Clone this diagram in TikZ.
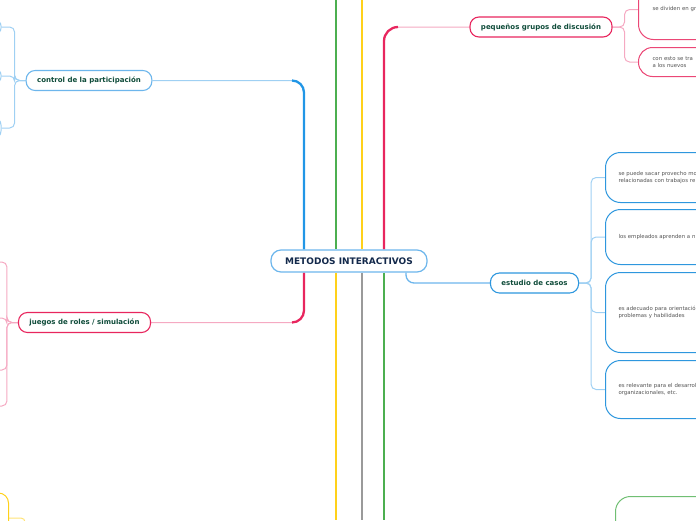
\documentclass[tikz,border=0pt]{standalone}
\usepackage{fontspec}
\setmainfont{DejaVu Sans}
\usepackage{tikz}
\usetikzlibrary{positioning,calc,backgrounds}
\definecolor{navy}{HTML}{13294B}
\definecolor{pine}{HTML}{0F4C3A}
\definecolor{leafink}{HTML}{555555}
\definecolor{skyline}{HTML}{6DB6EC}
\definecolor{trunkblue}{HTML}{2196E6}
\definecolor{twigblue}{HTML}{9FD0F3}
\definecolor{caseblue}{HTML}{2E97DE}
\definecolor{rose}{HTML}{E8265E}
\definecolor{twigpink}{HTML}{F5A9C2}
\definecolor{sun}{HTML}{FFD11A}
\definecolor{ash}{HTML}{9A9A9A}
\definecolor{grass}{HTML}{4CAF50}
\tikzset{
  root/.style={draw=skyline,line width=1.2pt,rounded corners=10pt,fill=white,text=navy,font=\fontsize{9}{11}\selectfont\bfseries,minimum width=156pt,minimum height=22pt,inner sep=0pt},
  topic/.style={draw=#1,line width=1.1pt,rounded corners=9pt,fill=white,text=pine,font=\fontsize{7}{8}\selectfont\bfseries,minimum height=20pt,inner xsep=11pt,inner ysep=0pt},
  leaf/.style={draw=#1,line width=1pt,rounded corners=15pt,fill=white,text=leafink,font=\fontsize{5.4}{7.6}\selectfont,align=left,inner xsep=13pt,inner ysep=0pt},
  trunk/.style={draw=#1,line width=2.3pt},
  twig/.style={draw=#1,line width=1pt}
}
\begin{document}
\begin{tikzpicture}[x=1pt,y=-1pt]
  \useasboundingbox (0,0) rectangle (696,520);
  % trunk columns
  \coordinate (top) at (0,0);
  \coordinate (bottom) at (0,520);
  \coordinate (c1) at (304,0);
  \coordinate (c2) at (336,0);
  \coordinate (c3) at (362,0);
  \coordinate (c4) at (384,0);
  \coordinate (c5) at (406,0);

  \node[root] (core) at (349,261) {METODOS INTERACTIVOS};

  \node[topic=skyline] (ctrl) at (89,80.5) {control de la participación};
  \node[topic=rose] (roles) at (84.5,322.5) {juegos de roles / simulación};
  \node[topic=rose] (groups) at (541,27) {pequeños grupos de discusión};
  \node[topic=caseblue] (cases) at (534.5,283) {estudio de casos};

  % estudio de casos
  \node[leaf=caseblue,anchor=north west,minimum height=50pt,text width=190pt] (caseA) at (605,152) {se puede sacar provecho mo\\relacionadas con trabajos re};
  \node[leaf=caseblue,below=6pt of caseA.south west,anchor=north west,minimum height=55pt,text width=190pt] (caseB) {los empleados aprenden a n};
  \node[leaf=caseblue,below=7pt of caseB.south west,anchor=north west,minimum height=80pt,text width=190pt] (caseC) {es adecuado para orientación\\problemas y habilidades};
  \node[leaf=caseblue,below=7pt of caseC.south west,anchor=north west,minimum height=58pt,text width=190pt] (caseD) {es relevante para el desarrollo\\organizacionales, etc.};

  % pequeños grupos
  \node[leaf=rose!85,anchor=south west,minimum height=60pt,text width=160pt,inner xsep=14pt] (groupA) at (638,40) {se dividen en gr};
  \node[leaf=rose!85,below=7pt of groupA.south west,anchor=north west,minimum height=29pt,text width=160pt,inner xsep=14pt,rounded corners=14pt] (groupB) {con esto se tra\\a los nuevos};

  % control de la participacion
  \node[leaf=twigblue,anchor=east,minimum width=50pt,minimum height=14pt,rounded corners=6pt] (partA) at (1.5,27) {};
  \node[leaf=twigblue,anchor=east,minimum width=50pt,minimum height=14pt,rounded corners=6pt] (partB) at (1.5,76) {};
  \node[leaf=twigblue,anchor=east,minimum width=50pt,minimum height=22pt,rounded corners=8pt] (partC) at (1.5,128) {};

  % juegos de roles
  \foreach \n/\y in {A/262,B/318,C/370,D/406}
    \node[leaf=twigpink,anchor=east,minimum width=50pt,minimum height=14pt,rounded corners=6pt] (role\n) at (-8,\y) {};

  \node[leaf=sun,anchor=east,minimum width=50pt,minimum height=50pt,rounded corners=10pt] (dayA) at (9,518) {};
  \coordinate (daybus) at (25,545);
  \node[leaf=grass!80,anchor=north west,minimum width=120pt,minimum height=60pt] (growA) at (615,496) {};

  \begin{scope}[on background layer]
    \draw[trunk=grass] (core.north -| c2) -- (c2 |- top);
    \draw[trunk=sun] (core.north -| c3) -- (c3 |- top);
    \draw[trunk=sun] (core.south -| c2) -- (c2 |- bottom);
    \draw[trunk=ash] (core.south -| c3) -- (c3 |- bottom);
    \draw[trunk=grass] (core.south -| c4) -- (c4 |- bottom);

    \draw[twig=twigblue,rounded corners=12pt] (core.north -| c1) |- (ctrl.east);
    \draw[trunk=trunkblue,rounded corners=12pt] (core.north -| c1) |- ($(c1 |- ctrl.east)+(-12,0)$);
    \draw[twig=twigpink,rounded corners=14pt] (core.north -| c4) |- (groups.west);
    \draw[trunk=rose,rounded corners=14pt] (core.north -| c4) |- ($(c4 |- groups.west)+(14,0)$);
    \draw[twig=twigpink,rounded corners=12pt] (core.south -| c1) |- (roles.east);
    \draw[trunk=rose,rounded corners=12pt] (core.south -| c1) |- ($(c1 |- roles.east)+(-12,0)$);
    \draw[twig=skyline,line width=1.3pt,rounded corners=8pt] (core.south -| c5) |- (cases.west);

    \foreach \k in {A,B,C,D}
      \draw[twig=twigblue,rounded corners=5pt] (cases.east) -- ++(12,0) |- (case\k.west);
    \foreach \k in {A,B}
      \draw[twig=twigpink,rounded corners=5pt] (groups.east) -- ++(12,0) |- (group\k.west);
    \foreach \k in {A,B,C}
      \draw[twig=twigblue,rounded corners=5pt] (ctrl.west) -- ++(-11,0) |- (part\k.east);
    \foreach \k in {A,B,C,D}
      \draw[twig=twigpink,rounded corners=5pt] (roles.west) -- ++(-11,0) |- (role\k.east);
    \draw[twig=sun!60,rounded corners=4pt] (dayA.east) -| (daybus);
  \end{scope}
\end{tikzpicture}
\end{document}
